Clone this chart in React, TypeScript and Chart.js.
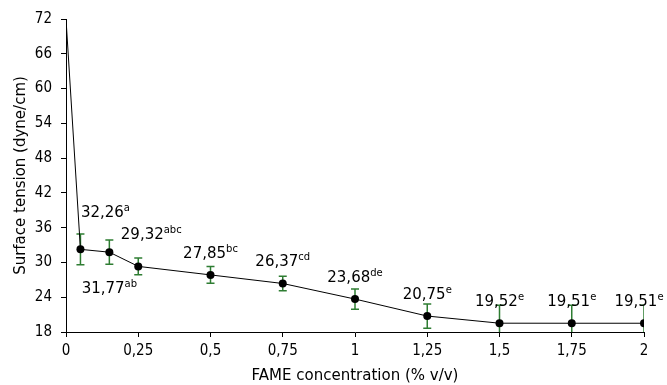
import React, { useEffect, useRef } from "react";
import { Chart, registerables } from "chart.js";

Chart.register(...registerables);

// ---- data ----
const concentrations = [0, 0.05, 0.15, 0.25, 0.5, 0.75, 1, 1.25, 1.5, 1.75, 2];
const tension = [72, 32.26, 31.77, 29.32, 27.85, 26.37, 23.68, 20.75, 19.52, 19.51, 19.51];
const errors = [0, 2.65, 2.1, 1.45, 1.45, 1.25, 1.75, 2.1, 3.1, 3.1, 3.1];
const letters = ["", "a", "ab", "abc", "bc", "cd", "de", "e", "e", "e", "e"];
const yTicks = [18, 24, 30, 36, 42, 48, 54, 60, 66, 72];
const xTicks = [0, 0.25, 0.5, 0.75, 1, 1.25, 1.5, 1.75, 2];

// ---- label layout (pixel offsets from the point) ----
const labelDx = [0, 25, 0, 13, 0, 0, 0, 0, 0, 0, -5];
const labelDy = [0, -36, 37, -31, -21, -21, -21, -21, -21, -21, -21];

const FONT = "'DejaVu Sans', Verdana, sans-serif";
const TICK_FONT = "'DejaVu Sans Condensed', 'DejaVu Sans', sans-serif";
const fmt = (v: number) => String(v).replace(".", ",");

const errorBarPlugin = {
  id: "errorBars",
  beforeDatasetsDraw(chart: any) {
    const { ctx, chartArea, scales } = chart;
    const xs = scales.x;
    const ys = scales.y;
    ctx.save();
    ctx.beginPath();
    ctx.rect(chartArea.left, chartArea.top, chartArea.right - chartArea.left, chartArea.bottom - chartArea.top);
    ctx.clip();
    ctx.strokeStyle = "#2e7d32";
    ctx.lineWidth = 1.5;
    for (let i = 0; i < concentrations.length; i++) {
      if (!errors[i]) continue;
      const x = xs.getPixelForValue(concentrations[i]);
      const yt = ys.getPixelForValue(tension[i] + errors[i]);
      const yb = ys.getPixelForValue(tension[i] - errors[i]);
      ctx.beginPath();
      ctx.moveTo(x, yt);
      ctx.lineTo(x, yb);
      ctx.moveTo(x - 4, yt);
      ctx.lineTo(x + 4, yt);
      ctx.moveTo(x - 4, yb);
      ctx.lineTo(x + 4, yb);
      ctx.stroke();
    }
    ctx.restore();
  },
};

const labelPlugin = {
  id: "valueLabels",
  afterDatasetsDraw(chart: any) {
    const { ctx, scales } = chart;
    const xs = scales.x;
    const ys = scales.y;
    ctx.save();
    ctx.fillStyle = "#000";
    ctx.textBaseline = "middle";
    ctx.textAlign = "left";
    for (let i = 0; i < concentrations.length; i++) {
      if (!letters[i]) continue;
      const main = tension[i].toFixed(2).replace(".", ",");
      const sup = letters[i];
      ctx.font = `15px ${FONT}`;
      const wm = ctx.measureText(main).width;
      ctx.font = `10px ${FONT}`;
      const ws = ctx.measureText(sup).width;
      const cx = xs.getPixelForValue(concentrations[i]) + labelDx[i];
      const cy = ys.getPixelForValue(tension[i]) + labelDy[i];
      const x0 = cx - (wm + ws) / 2;
      ctx.font = `15px ${FONT}`;
      ctx.fillText(main, x0, cy);
      ctx.font = `10px ${FONT}`;
      ctx.fillText(sup, x0 + wm, cy - 5);
    }
    ctx.restore();
  },
};

export default function App() {
  const ref = useRef<HTMLCanvasElement | null>(null);
  useEffect(() => {
    if (!ref.current) return;
    const chart = new Chart(ref.current, {
      type: "line",
      data: {
        datasets: [
          {
            data: concentrations.map((c, i) => ({ x: c, y: tension[i] })),
            borderColor: "#000",
            borderWidth: 1,
            pointRadius: concentrations.map((_, i) => (i === 0 ? 0 : 4)),
            pointBackgroundColor: "#000",
            pointBorderColor: "#000",
            pointBorderWidth: 0,
            tension: 0,
          },
        ],
      },
      options: {
        animation: false,
        responsive: false,
        maintainAspectRatio: false,
        layout: { padding: { top: 19, right: 23, left: 0, bottom: 0 } },
        plugins: { legend: { display: false }, tooltip: { enabled: false } },
        scales: {
          x: {
            type: "linear",
            min: 0,
            max: 2,
            afterBuildTicks: (s: any) => {
              s.ticks = xTicks.map((v) => ({ value: v }));
            },
            afterFit: (s: any) => {
              s.height = 53;
            },
            grid: { drawOnChartArea: false, drawTicks: true, tickLength: 5, color: "#000" },
            border: { display: true, color: "#000", width: 1 },
            ticks: {
              color: "#000",
              padding: 5,
              maxRotation: 0,
              font: { family: TICK_FONT, size: 15 },
              callback: (v: any) => fmt(Number(v)),
            },
            title: {
              display: true,
              text: "FAME concentration (% v/v)",
              color: "#000",
              font: { family: FONT, size: 15 },
              padding: { top: 0, bottom: 0 },
            },
          },
          y: {
            type: "linear",
            min: 18,
            max: 72,
            afterBuildTicks: (s: any) => {
              s.ticks = yTicks.map((v) => ({ value: v }));
            },
            afterFit: (s: any) => {
              s.width = 66;
            },
            grid: { drawOnChartArea: false, drawTicks: true, tickLength: 5, color: "#000" },
            border: { display: true, color: "#000", width: 1 },
            ticks: {
              color: "#000",
              padding: 9,
              font: { family: TICK_FONT, size: 15 },
              callback: (v: any) => fmt(Number(v)),
            },
            title: {
              display: true,
              text: "Surface tension (dyne/cm)",
              color: "#000",
              font: { family: FONT, size: 15 },
              padding: { top: 12, bottom: 0 },
            },
          },
        },
      },
      plugins: [errorBarPlugin, labelPlugin],
    });
    return () => chart.destroy();
  }, []);
  return (
    <div style={{ position: "fixed", left: 0, top: 0, width: 667, height: 385, background: "#fff" }}>
      <canvas ref={ref} width={667} height={385} style={{ width: 667, height: 385 }} />
    </div>
  );
}
